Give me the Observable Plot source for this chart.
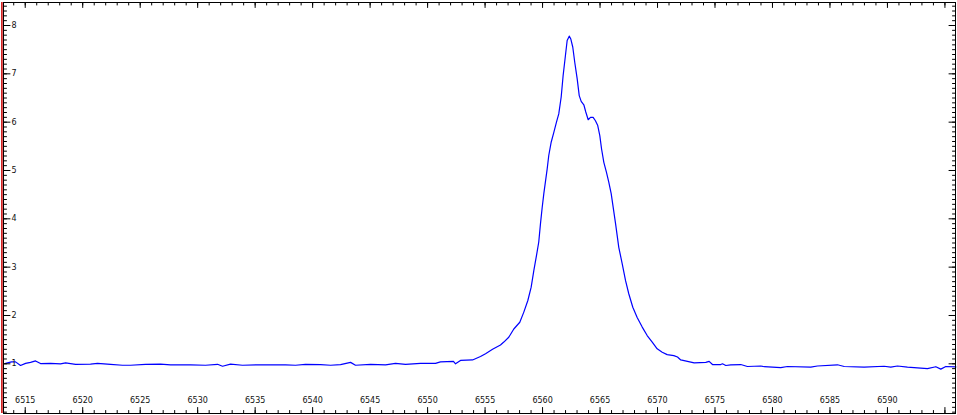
<!DOCTYPE html>
<html>
<head>
<meta charset="utf-8">
<script src="https://cdn.jsdelivr.net/npm/d3@7"></script>
<script src="https://cdn.jsdelivr.net/npm/@observablehq/plot@0.6"></script>
<style>
  html, body { margin: 0; padding: 0; background: #fff; }
  #chart svg { display: block; }
</style>
</head>
<body>
<div id="chart"></div>
<script>
// Wavelength (Å) and relative intensity
const wavelength = [
  6513.29, 6513.81, 6514.16, 6514.59, 6515.03, 6515.46, 6515.90, 6516.33, 6517.20, 6518.07,
  6518.51, 6519.38, 6520.68, 6521.29, 6522.42, 6523.46, 6524.16, 6525.46, 6526.77, 6527.64,
  6529.38, 6530.68, 6531.73, 6532.16, 6532.86, 6533.90, 6535.47, 6537.64, 6538.51, 6539.38,
  6540.69, 6541.56, 6542.43, 6543.30, 6543.73, 6545.04, 6546.34, 6547.21, 6548.08, 6549.38,
  6550.69, 6551.12, 6552.25, 6552.43, 6552.86, 6553.91, 6554.60, 6555.04, 6555.65, 6556.34,
  6556.63, 6557.06, 6557.50, 6558.02, 6558.37, 6558.72, 6559.01, 6559.24, 6559.47, 6559.67,
  6559.82, 6559.97, 6560.11, 6560.40, 6560.54, 6560.75, 6560.98, 6561.21, 6561.41, 6561.62,
  6561.79, 6561.99, 6562.14, 6562.32, 6562.46, 6562.63, 6562.80, 6563.01, 6563.19, 6563.36,
  6563.59, 6563.76, 6563.97, 6564.17, 6564.40, 6564.60, 6564.80, 6564.98, 6565.13, 6565.33,
  6565.56, 6565.76, 6565.97, 6566.35, 6566.63, 6566.93, 6567.22, 6567.50, 6567.85, 6568.23,
  6568.67, 6569.10, 6569.54, 6569.97, 6570.41, 6570.84, 6571.42, 6571.74, 6572.02, 6573.19,
  6574.20, 6574.49, 6574.78, 6575.50, 6575.65, 6575.94, 6576.37, 6577.24, 6577.82, 6578.98,
  6579.28, 6580.72, 6581.30, 6583.33, 6583.91, 6585.65, 6586.24, 6587.97, 6589.71, 6590.29,
  6590.87, 6591.74, 6593.48, 6594.21, 6594.64, 6595.08, 6595.95
];
const intensity = [
  1.01, 1.04, 1.04, 0.965, 1.01, 1.03, 1.06, 1.005, 1.01, 1.00,
  1.02, 0.99, 0.995, 1.01, 0.99, 0.97, 0.97, 0.99, 0.995, 0.98,
  0.98, 0.97, 0.99, 0.95, 0.995, 0.97, 0.98, 0.98, 0.97, 0.99,
  0.985, 0.97, 0.985, 1.03, 0.97, 0.99, 0.98, 1.01, 0.99, 1.01,
  1.01, 1.04, 1.05, 1.00, 1.07, 1.08, 1.15, 1.21, 1.30, 1.39,
  1.45, 1.55, 1.72, 1.86, 2.07, 2.31, 2.585, 2.93, 3.24, 3.52,
  3.90, 4.24, 4.52, 5.03, 5.31, 5.585, 5.79, 6.00, 6.17, 6.52,
  6.965, 7.38, 7.69, 7.78, 7.72, 7.55, 7.24, 6.90, 6.55, 6.43,
  6.36, 6.21, 6.05, 6.10, 6.10, 6.03, 5.93, 5.72, 5.45, 5.17,
  4.96, 4.76, 4.52, 3.90, 3.41, 3.07, 2.72, 2.45, 2.17, 1.96,
  1.76, 1.585, 1.45, 1.31, 1.24, 1.19, 1.17, 1.14, 1.08, 1.02,
  1.03, 1.05, 0.985, 0.985, 1.00, 0.965, 0.98, 0.985, 0.945, 0.955,
  0.94, 0.92, 0.945, 0.93, 0.955, 0.98, 0.945, 0.93, 0.95, 0.93,
  0.955, 0.93, 0.90, 0.94, 0.89, 0.945, 0.935
];

// Tick labels
const xTickLabels = [6515, 6520, 6525, 6530, 6535, 6540, 6545, 6550, 6555, 6560, 6565, 6570, 6575, 6580, 6585, 6590];
const xMajorTicks = [6515, 6520, 6525, 6530, 6535, 6540, 6545, 6550, 6555, 6560, 6565, 6570, 6575, 6580, 6585, 6590, 6595];
const xMinorTicks = d3.range(6514, 6596, 1);
const yTickLabels = [1, 2, 3, 4, 5, 6, 7, 8];
const yMinorTicks = d3.range(0, 85, 1).map(d => d / 10);

const xDomain = [6513.11, 6595.92];
const yDomain = [-0.028, 8.476];

const data = wavelength.map((w, i) => ({w, v: intensity[i]}));

const font = "DejaVu Sans, Verdana, sans-serif";

// plain tick-line shape for vector marks (no arrowhead)
const tickShape = {
  draw(context, l) {
    context.moveTo(0, 0);
    context.lineTo(0, -l);
  }
};
const tickOpts = {anchor: "start", stroke: "#000", strokeWidth: 1, shape: tickShape};

const chart = Plot.plot({
  width: 957,
  height: 415,
  marginTop: 2,
  marginBottom: 2,
  marginLeft: 3,
  marginRight: 2,
  style: {fontFamily: font, fontSize: "8px", background: "#fff", overflow: "visible"},
  x: {domain: xDomain, axis: null},
  y: {domain: yDomain, axis: null},
  marks: [
    // spectrum
    Plot.line(data, {x: "w", y: "v", stroke: "#0000ff", strokeWidth: 1.2}),
    // bottom ticks (inward)
    Plot.vectorX(xMinorTicks, {x: d => d, frameAnchor: "bottom", length: 3, rotate: 0, ...tickOpts}),
    Plot.vectorX(xMajorTicks, {x: d => d, frameAnchor: "bottom", length: 6, rotate: 0, ...tickOpts}),
    // top ticks (inward)
    Plot.vectorX(xMinorTicks, {x: d => d, frameAnchor: "top", length: 2.5, rotate: 180, ...tickOpts}),
    Plot.vectorX(xMajorTicks, {x: d => d, frameAnchor: "top", length: 5, rotate: 180, ...tickOpts}),
    // left ticks
    Plot.vectorY(yMinorTicks, {y: d => d, frameAnchor: "left", length: 3, rotate: 90, ...tickOpts}),
    Plot.vectorY(yTickLabels, {y: d => d, frameAnchor: "left", length: 6.5, rotate: 90, ...tickOpts}),
    // right ticks
    Plot.vectorY(yMinorTicks, {y: d => d, frameAnchor: "right", length: 3, rotate: -90, ...tickOpts}),
    Plot.vectorY(yTickLabels, {y: d => d, frameAnchor: "right", length: 6.5, rotate: -90, ...tickOpts}),
    // labels
    Plot.text(xTickLabels, {x: d => d, frameAnchor: "bottom", dy: -13, lineAnchor: "middle", text: d => String(d), fill: "#111", fontSize: 8}),
    Plot.text(yTickLabels, {y: d => d, frameAnchor: "left", dx: 8, textAnchor: "start", lineAnchor: "middle", text: d => String(d), fill: "#111", fontSize: 8}),
    // frame
    Plot.frame({stroke: "#000", strokeWidth: 1}),
    Plot.ruleX([xDomain[0]], {stroke: "#cc0000", strokeWidth: 1.5, dx: -1.6})
  ]
});

document.getElementById("chart").appendChild(chart);
</script>
</body>
</html>
